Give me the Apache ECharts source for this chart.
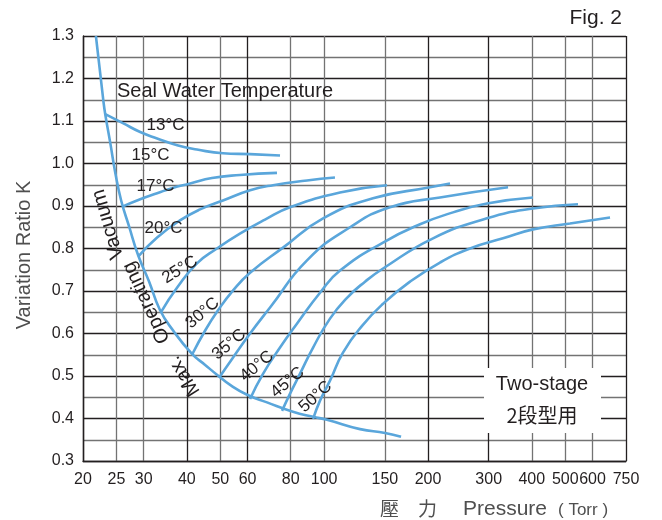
<!DOCTYPE html>
<html><head><meta charset="utf-8">
<script src="https://cdn.jsdelivr.net/npm/echarts@6/dist/echarts.min.js"></script>
<style>html,body{margin:0;padding:0;background:#fff}#c{width:662px;height:520px}</style>
</head><body><div id="c"></div>
<script>
// ---- axis ticks ----
const pressureTicks = [20, 25, 30, 40, 50, 60, 80, 100, 150, 200, 300, 400, 500, 600, 750];
const ratioTicks = [0.3, 0.4, 0.5, 0.6, 0.7, 0.8, 0.9, 1.0, 1.1, 1.2, 1.3];

// ---- Max. operating vacuum envelope ----
const envelopeP = [21.8, 22.9, 23.2, 24.0, 24.8, 25.8, 27.2, 28.9, 31.1, 33.4, 36.5, 41.4, 45.2, 48.9, 53.4, 59.8, 68.3, 81.2, 92.9, 101.9, 127.1, 150.2, 167.1];
const envelopeK = [1.300, 1.149, 1.116, 1.048, 0.979, 0.913, 0.852, 0.784, 0.722, 0.656, 0.607, 0.552, 0.526, 0.503, 0.479, 0.456, 0.438, 0.416, 0.404, 0.397, 0.375, 0.366, 0.357];

// ---- seal water temperature curves ----
const t13P = [23.2, 26.1, 29.3, 32.8, 37.5, 42.8, 50.9, 61.0, 74.5];
const t13K = [1.116, 1.095, 1.074, 1.059, 1.043, 1.033, 1.024, 1.022, 1.019];
const t17P = [26.1, 29.3, 32.8, 36.2, 40.9, 47.3, 57.0, 73.0];
const t17K = [0.899, 0.916, 0.930, 0.942, 0.953, 0.966, 0.973, 0.978];
const t20P = [28.9, 32.8, 38.2, 43.7, 50.9, 61.0, 71.1, 89.2, 107.5];
const t20K = [0.781, 0.826, 0.866, 0.892, 0.913, 0.937, 0.949, 0.960, 0.967];
const t25P = [33.7, 37.5, 42.8, 48.9, 57.0, 67.4, 79.6, 111.2, 152.2];
const t25K = [0.651, 0.708, 0.765, 0.800, 0.835, 0.868, 0.897, 0.932, 0.949];
const t30P = [41.4, 45.2, 49.2, 54.4, 61.0, 76.0, 99.3, 138.6, 202.8, 231.7];
const t30K = [0.550, 0.607, 0.654, 0.701, 0.743, 0.802, 0.871, 0.918, 0.944, 0.953];
const t35P = [49.6, 54.4, 61.0, 69.7, 89.2, 118.9, 155.2, 216.7, 341.3];
const t35K = [0.496, 0.543, 0.600, 0.661, 0.772, 0.850, 0.897, 0.920, 0.944];
const t40P = [61.0, 66.5, 74.5, 83.4, 97.3, 111.2, 148.2, 189.7, 236.4, 296.6, 403.1];
const t40K = [0.446, 0.505, 0.567, 0.623, 0.696, 0.748, 0.814, 0.857, 0.885, 0.906, 0.920];
const t45P = [75.5, 79.6, 85.1, 92.9, 104.0, 116.5, 131.4, 148.2, 206.9, 296.6, 403.1, 544.4];
const t45K = [0.418, 0.458, 0.505, 0.567, 0.635, 0.684, 0.722, 0.753, 0.824, 0.871, 0.894, 0.904];
const t50P = [92.9, 97.3, 104.0, 113.4, 128.8, 148.2, 177.4, 216.7, 264.8, 330.1, 403.1, 516.1, 674.2];
const t50K = [0.399, 0.442, 0.489, 0.555, 0.618, 0.670, 0.722, 0.767, 0.800, 0.824, 0.845, 0.859, 0.873];

const tempNames = ['13°C', '15°C', '17°C', '20°C', '25°C', '30°C', '35°C', '40°C', '45°C', '50°C'];
const vacuumWords = ['Max.', 'Operating', 'Vacuum'];

// ---- annotation anchors (data coordinates: pressure, ratio, text angle) ----
const tempAnchors = [[34.7,1.091,0],[31.4,1.019,0],[32.45,0.947,0],[34.24,0.848,0],[38.2,0.750,32],[44.4,0.648,40],[53.0,0.574,40],[63.8,0.523,40],[78.3,0.485,40],[94.4,0.451,42]];
const wordAnchors = [[39.25,0.500,122],[30.56,0.673,115],[23.63,0.857,106]];

const DARK = '#231f20', GRAY = '#737373', BLUE = '#5aa6db', NAMEC = '#4f4f4f';
const FONT = '"Liberation Sans", Arial, Helvetica, sans-serif';
const CJK = '"Noto Sans CJK TC", "Noto Sans CJK SC", sans-serif';
const lg = Math.log10;

const xGridColors = [DARK, GRAY, GRAY, DARK, GRAY, DARK, GRAY, GRAY, GRAY, DARK, DARK, GRAY, GRAY, GRAY, DARK];

const curves = [[envelopeP, envelopeK], [t13P, t13K], [t17P, t17K], [t20P, t20K], [t25P, t25K], [t30P, t30K], [t35P, t35K], [t40P, t40K], [t45P, t45K], [t50P, t50K]];

const series = curves.map(([P, K]) => ({
  type: 'line', smooth: 0.5, symbol: 'none', silent: true, z: 3,
  lineStyle: { color: BLUE, width: 2.6 },
  data: P.map((p, i) => [lg(p), K[i]])
}));

const staticGraphics = [
  { type: 'text', x: 622, y: 18, style: { text: 'Fig. 2', font: '21px ' + FONT, fill: DARK, align: 'right', verticalAlign: 'middle' } },
  { type: 'text', x: 117, y: 91, z: 10, style: { text: 'Seal Water Temperature', font: '20px ' + FONT, fill: DARK, align: 'left', verticalAlign: 'middle' } },
  { type: 'text', x: 24, y: 255, rotation: Math.PI / 2, style: { text: 'Variation Ratio K', font: '20px ' + FONT, fill: NAMEC, align: 'center', verticalAlign: 'middle' } },
  { type: 'text', x: 380, y: 509, style: { text: '壓', font: '19px ' + CJK, fill: NAMEC, align: 'left', verticalAlign: 'middle' } },
  { type: 'text', x: 418, y: 509, style: { text: '力', font: '19px ' + CJK, fill: NAMEC, align: 'left', verticalAlign: 'middle' } },
  { type: 'text', x: 463, y: 509, style: { text: 'Pressure', font: '21px ' + FONT, fill: NAMEC, align: 'left', verticalAlign: 'middle' } },
  { type: 'text', x: 558, y: 510, style: { text: '( Torr )', font: '17px ' + FONT, fill: NAMEC, align: 'left', verticalAlign: 'middle' } },
  { type: 'rect', z: 20, shape: { x: 484, y: 368, width: 117, height: 65 }, style: { fill: '#fff' } },
  { type: 'text', z: 21, x: 542, y: 384, style: { text: 'Two-stage', font: '20px ' + FONT, fill: DARK, align: 'center', verticalAlign: 'middle' } },
  { type: 'text', z: 21, x: 542, y: 415, style: { text: '2段型用', font: '20px ' + CJK, fill: DARK, align: 'center', verticalAlign: 'middle' } }
];

const chart = echarts.init(document.getElementById('c'), null, { renderer: 'canvas' });
chart.setOption({
  animation: false,
  backgroundColor: '#fff',
  grid: { left: 83, right: 36, top: 36, bottom: 59, outerBoundsMode: 'none' },
  xAxis: {
    type: 'value', min: lg(20), max: lg(750),
    axisLine: { show: true, onZero: false, lineStyle: { color: DARK, width: 1.4 } },
    axisTick: { show: false, customValues: pressureTicks.map(lg) },
    axisLabel: { customValues: pressureTicks.map(lg), formatter: v => String(Math.round(Math.pow(10, v))), fontSize: 16, color: DARK, margin: 11, fontFamily: FONT },
    splitLine: { show: true, lineStyle: { color: xGridColors, width: 1.3 } }
  },
  yAxis: {
    type: 'value', min: 0.3, max: 1.3, interval: 0.05,
    axisLine: { show: true, onZero: false, lineStyle: { color: DARK, width: 1.4 } },
    axisTick: { show: false },
    axisLabel: { customValues: ratioTicks, formatter: v => v.toFixed(1), fontSize: 16, color: DARK, margin: 9, fontFamily: FONT },
    splitLine: { show: true, lineStyle: { color: [DARK, GRAY], width: 1.3 } }
  },
  series: series,
  graphic: staticGraphics
});

// place curve annotations through the chart's own coordinate conversion
const annot = (names, anchors, size) => names.map((t, i) => {
  const pt = chart.convertToPixel({ gridIndex: 0 }, [lg(anchors[i][0]), anchors[i][1]]);
  return { type: 'text', z: 15, x: pt[0], y: pt[1], rotation: anchors[i][2] * Math.PI / 180,
    style: { text: t, font: size + 'px ' + FONT, fill: DARK, align: 'center', verticalAlign: 'middle' } };
});
chart.setOption({ graphic: staticGraphics.concat(annot(tempNames, tempAnchors, 17), annot(vacuumWords, wordAnchors, 20)) });
</script></body></html>
